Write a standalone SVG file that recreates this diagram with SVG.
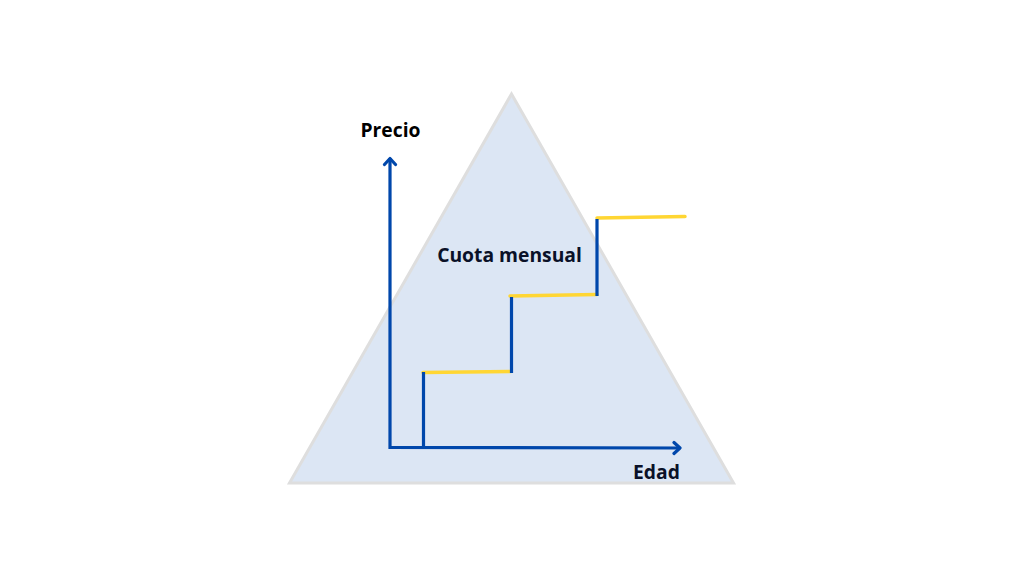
<svg xmlns="http://www.w3.org/2000/svg" width="1024" height="576" viewBox="0 0 1024 576">
<style>
.lbl{font-family:"Open Sans","Noto Sans",sans-serif;font-weight:700;font-size:19.3px}
.blue{fill:none;stroke:#0047ab;stroke-width:3.200}
.yel{fill:none;stroke:#ffd633;stroke-width:3.500;stroke-linecap:round}
</style>
<rect width="1024" height="576" fill="#fff"/>
<g id="triangle"><polygon points="511.500,94 733.500,483 289.500,483" fill="#dce6f4" stroke="#dedede" stroke-width="3"/></g>
<g id="connectors">
<path class="yel" d="M423 372.500L511 371.500M510 296L597 294.500M597 218L685 216.500"/>
<path class="blue" d="M423.500 372V447M511.500 297V373M597 219V296"/>
<path class="blue" d="M390 158V447.500L680 448"/>
<path class="blue" stroke-linecap="round" stroke-linejoin="round" d="M384.500 164.500L390 158.500L395.500 164.500M674 442.500L680 448L674 453.500"/>
</g>
<g id="precio"><text class="lbl" x="390.500" y="137" text-anchor="middle" fill="#000">Precio</text></g>
<g id="cuota"><text class="lbl" x="509.500" y="262" text-anchor="middle" fill="#0a1128">Cuota mensual</text></g>
<g id="edad"><text class="lbl" x="656.500" y="479" text-anchor="middle" fill="#0a1128">Edad</text></g>
</svg>
